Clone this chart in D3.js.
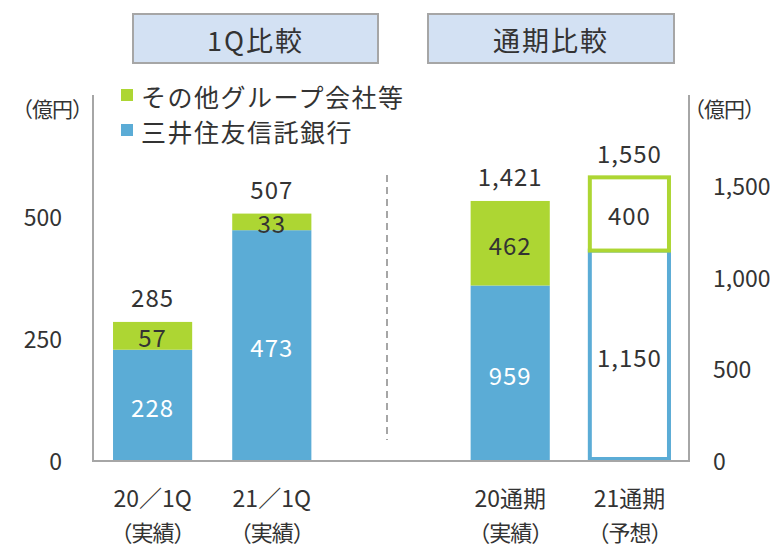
<!DOCTYPE html>
<html>
<head>
<meta charset="utf-8">
<script src="https://cdn.jsdelivr.net/npm/d3@7"></script>
<style>
  body { margin: 0; background: #fff; }
  text { font-family: "Noto Sans CJK JP", "Noto Sans", sans-serif; fill: #333; }
</style>
</head>
<body>
<svg id="chart"></svg>
<script>
// Define width and height
const width = 780;
const height = 547;

// Chart data
const categories = ["20／1Q", "21／1Q", "20通期", "21通期"];
const subLabels = ["（実績）", "（実績）", "（実績）", "（予想）"];
const trustBank = [228, 473, 959, 1150];
const groupCos = [57, 33, 462, 400];
const totals = [285, 507, 1421, 1550];
const scaleSide = ["left", "left", "right", "right"];
const isForecast = [false, false, false, true];
const leftTicks = [0, 250, 500];
const rightTicks = [0, 500, 1000, 1500];
const seriesNames = ["その他グループ会社等", "三井住友信託銀行"];
const panelTitles = ["1Q比較", "通期比較"];

const blue = "#5BACD6";
const green = "#ADD633";
const grey = "#A6A6A6";

const svg = d3.select("#chart")
    .attr("width", width)
    .attr("height", height);

// Frame of the plot
const plot = { left: 93, right: 689, top: 95, bottom: 461 };

// x: 5 slots, the middle one only holds the dashed divider
const slots = [categories[0], categories[1], "divider", categories[2], categories[3]];
const x = d3.scaleBand()
    .domain(slots)
    .range([plot.left, plot.right])
    .paddingInner(0.336)
    .paddingOuter(0.168);

const yLeft = d3.scaleLinear().domain([0, 750]).range([plot.bottom, plot.top]);
const yRight = d3.scaleLinear().domain([0, 2000]).range([plot.bottom, plot.top]);

const fmt = d3.format(",");

// Build rows
const rows = categories.map((c, i) => ({
    cat: c,
    sub: subLabels[i],
    bank: trustBank[i],
    group: groupCos[i],
    total: totals[i],
    y: scaleSide[i] === "left" ? yLeft : yRight,
    forecast: isForecast[i]
}));

// Panel titles
const titleBoxes = [
    { text: panelTitles[0], x0: 133, x1: 378 },
    { text: panelTitles[1], x0: 428, x1: 674 }
];
svg.selectAll(".title-box")
    .data(titleBoxes)
    .enter().append("rect")
    .attr("x", d => d.x0)
    .attr("y", 14)
    .attr("width", d => d.x1 - d.x0)
    .attr("height", 49)
    .attr("fill", "#D3E1F3")
    .attr("stroke", grey)
    .attr("stroke-width", 2);
svg.selectAll(".title-text")
    .data(titleBoxes)
    .enter().append("text")
    .attr("x", d => (d.x0 + d.x1) / 2)
    .attr("y", 39)
    .attr("text-anchor", "middle")
    .attr("dominant-baseline", "central")
    .style("font-size", "27px")
    .style("letter-spacing", "2px")
    .text(d => d.text);

// Bars
rows.forEach(d => {
    const bx = x(d.cat);
    const bw = x.bandwidth();
    if (!d.forecast) {
        svg.append("rect")
            .attr("x", bx).attr("width", bw)
            .attr("y", d.y(d.bank)).attr("height", d.y(0) - d.y(d.bank))
            .attr("fill", blue);
        svg.append("rect")
            .attr("x", bx).attr("width", bw)
            .attr("y", d.y(d.total)).attr("height", d.y(d.bank) - d.y(d.total))
            .attr("fill", green);
    } else {
        // forecast: outlined boxes
        svg.append("rect")
            .attr("x", bx).attr("width", bw)
            .attr("y", d.y(d.bank)).attr("height", d.y(0) - d.y(d.bank) - 2)
            .attr("fill", "#fff")
            .attr("stroke", blue)
            .attr("stroke-width", 4);
        svg.append("rect")
            .attr("x", bx).attr("width", bw)
            .attr("y", d.y(d.total)).attr("height", d.y(d.bank) - d.y(d.total))
            .attr("fill", "#fff")
            .attr("stroke", green)
            .attr("stroke-width", 4);
    }
    const cx = bx + bw / 2;
    // segment labels
    svg.append("text")
        .attr("x", cx)
        .attr("y", (d.y(0) + d.y(d.bank)) / 2 + 1)
        .attr("text-anchor", "middle")
        .attr("dominant-baseline", "central")
        .style("font-size", "24px")
        .style("letter-spacing", "1px")
        .style("fill", d.forecast ? "#333" : "#fff")
        .text(fmt(d.bank));
    svg.append("text")
        .attr("x", cx)
        .attr("y", (d.y(d.bank) + d.y(d.total)) / 2 + 1)
        .attr("text-anchor", "middle")
        .attr("dominant-baseline", "central")
        .style("font-size", "24px")
        .style("letter-spacing", "1px")
        .text(fmt(d.group));
    // total above
    svg.append("text")
        .attr("x", cx)
        .attr("y", d.y(d.total) - 25)
        .attr("text-anchor", "middle")
        .attr("dominant-baseline", "central")
        .style("font-size", "24px")
        .style("letter-spacing", "1px")
        .text(fmt(d.total));
    // category labels
    svg.append("text")
        .attr("x", cx)
        .attr("y", 497)
        .attr("text-anchor", "middle")
        .attr("dominant-baseline", "central")
        .style("font-size", "23px")
        .text(d.cat);
    svg.append("text")
        .attr("x", cx)
        .attr("y", 531)
        .attr("text-anchor", "middle")
        .attr("dominant-baseline", "central")
        .style("font-size", "22px")
        .style("letter-spacing", "-1px")
        .text(d.sub);
});

// Frame lines
svg.append("path")
    .attr("d", `M${plot.left},${plot.top}V${plot.bottom}H${plot.right}V${plot.top}`)
    .attr("fill", "none")
    .attr("stroke", grey)
    .attr("stroke-width", 2);

// Dashed divider
const divX = x("divider") + x.bandwidth() / 2 - 4;
svg.append("line")
    .attr("x1", divX).attr("x2", divX)
    .attr("y1", 175).attr("y2", 440)
    .attr("stroke", grey)
    .attr("stroke-width", 2)
    .attr("stroke-dasharray", "7,5");

// Axes (labels only)
const leftAxis = svg.append("g")
    .attr("transform", `translate(${plot.left},0)`)
    .call(d3.axisLeft(yLeft).tickValues(leftTicks).tickSize(0).tickPadding(31).tickFormat(fmt));
const rightAxis = svg.append("g")
    .attr("transform", `translate(${plot.right},0)`)
    .call(d3.axisRight(yRight).tickValues(rightTicks).tickSize(0).tickPadding(24).tickFormat(fmt));
[leftAxis, rightAxis].forEach(a => {
    a.select(".domain").remove();
    a.selectAll("text")
        .style("font-size", "23px")
        .style("font-family", "'Noto Sans CJK JP', sans-serif")
        .attr("fill", "#333")
        .attr("dy", "0.35em");
});

// Unit labels
svg.append("text")
    .attr("x", 92).attr("y", 108)
    .attr("text-anchor", "end")
    .attr("dominant-baseline", "central")
    .style("font-size", "21px")
    .style("letter-spacing", "-1px")
    .text("（億円）");
svg.append("text")
    .attr("x", 684).attr("y", 108)
    .attr("dominant-baseline", "central")
    .style("font-size", "21px")
    .style("letter-spacing", "-1px")
    .text("（億円）");

// Legend
const legendColors = [green, blue];
svg.selectAll(".legend-sq")
    .data(seriesNames)
    .enter().append("rect")
    .attr("x", 121)
    .attr("y", (d, i) => 89 + i * 35)
    .attr("width", 12)
    .attr("height", 12)
    .attr("fill", (d, i) => legendColors[i]);
svg.selectAll(".legend-text")
    .data(seriesNames)
    .enter().append("text")
    .attr("x", 141)
    .attr("y", (d, i) => 96 + i * 35)
    .attr("dominant-baseline", "central")
    .style("font-size", "25px")
    .style("letter-spacing", "1.5px")
    .text(d => d);
</script>
</body>
</html>
